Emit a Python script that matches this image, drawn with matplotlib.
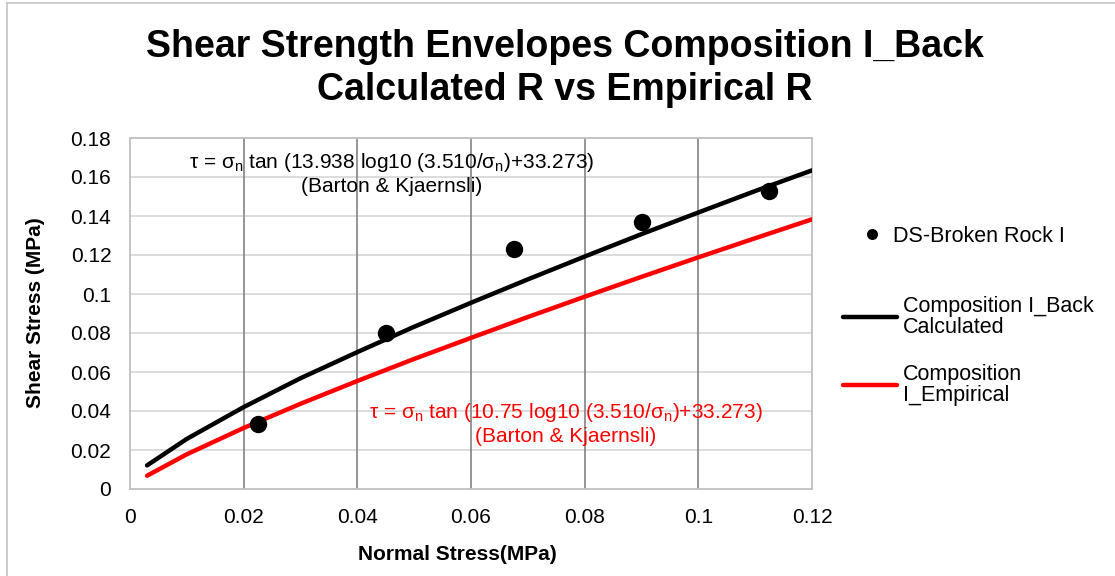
import matplotlib
matplotlib.use("Agg")
import matplotlib.pyplot as plt
from matplotlib.lines import Line2D

plt.rcParams['font.family'] = ['Liberation Sans', 'DejaVu Sans']
plt.rcParams['mathtext.fontset'] = 'custom'
plt.rcParams['mathtext.rm'] = 'Liberation Sans'
plt.rcParams['mathtext.it'] = 'Liberation Sans'

# Data
ds_x = [0.0225, 0.045, 0.0675, 0.09, 0.1125]
ds_y = [0.0335, 0.080, 0.123, 0.137, 0.153]

env_x = [0.003, 0.01, 0.02, 0.03, 0.04, 0.05, 0.06, 0.07, 0.08, 0.09, 0.10, 0.11, 0.12]
back_y = [0.0121, 0.0257, 0.0420, 0.0568, 0.0702, 0.0832, 0.0955, 0.1075, 0.1192, 0.1307, 0.1418, 0.1528, 0.1634]
emp_y = [0.0068, 0.0178, 0.0313, 0.0437, 0.0554, 0.0667, 0.0775, 0.0882, 0.0986, 0.1088, 0.1188, 0.1286, 0.1383]

x_ticks = [0, 0.02, 0.04, 0.06, 0.08, 0.1, 0.12]
x_ticklabels = ['0', '0.02', '0.04', '0.06', '0.08', '0.1', '0.12']
y_ticks = [0, 0.02, 0.04, 0.06, 0.08, 0.1, 0.12, 0.14, 0.16, 0.18]
y_ticklabels = ['0', '0.02', '0.04', '0.06', '0.08', '0.1', '0.12', '0.14', '0.16', '0.18']

W, H = 1115, 576
fig = plt.figure(figsize=(W / 100, H / 100), dpi=100)
ax = fig.add_axes([130 / W, 1 - 489 / H, (812 - 130) / W, (489 - 138) / H])

ax.set_xlim(0, 0.12)
ax.set_ylim(0, 0.18)
ax.set_xticks(x_ticks)
ax.set_xticklabels(x_ticklabels)
ax.set_yticks(y_ticks)
ax.set_yticklabels(y_ticklabels)
ax.tick_params(length=0, labelsize=15, pad=13.5)

for y in y_ticks[1:]:
    ax.axhline(y, color='#d9d9d9', lw=1.3, zorder=0)
for x in x_ticks[1:-1]:
    ax.axvline(x, color='#8c8c8c', lw=1.3, zorder=0)
for s in ax.spines.values():
    s.set_color('#bfbfbf')
    s.set_linewidth(1.3)

l_back, = ax.plot(env_x, back_y, color='black', lw=3.2, solid_capstyle='round',
                  label='Composition I_Back\nCalculated', zorder=3)
l_emp, = ax.plot(env_x, emp_y, color='#ff0000', lw=3.2, solid_capstyle='round',
                 label='Composition\nI_Empirical', zorder=3)
sc, = ax.plot(ds_x, ds_y, 'o', color='black', ms=11.5, ls='none',
              label='DS-Broken Rock I', zorder=4)

ax.set_xlabel('Normal Stress(MPa)', fontsize=15, fontweight='bold')
ax.xaxis.set_label_coords((457 - 130) / 682, (489 - 555) / 351)
ax.xaxis.label.set_va('center')
ax.set_ylabel('Shear Stress (MPa)', fontsize=15, fontweight='bold')
ax.yaxis.set_label_coords((35 - 130) / 682, (489 - 313) / 351)
ax.yaxis.label.set_va('center')

fig.text(565 / W, 1 - 47 / H, 'Shear Strength Envelopes Composition I_Back',
         ha='center', va='center', fontsize=27, fontweight='bold')
fig.text(565 / W, 1 - 90 / H, 'Calculated R vs Empirical R',
         ha='center', va='center', fontsize=27, fontweight='bold')

fig.text(392 / W, 1 - 162 / H, r'τ = σ$_\mathregular{n}$ tan (13.938 log10 (3.510/σ$_\mathregular{n}$)+33.273)',
         ha='center', va='center', fontsize=15, color='black')
fig.text(392 / W, 1 - 186 / H, '(Barton & Kjaernsli)',
         ha='center', va='center', fontsize=15, color='black')
fig.text(566 / W, 1 - 413 / H, r'τ = σ$_\mathregular{n}$ tan (10.75 log10 (3.510/σ$_\mathregular{n}$)+33.273)',
         ha='center', va='center', fontsize=15, color='#ff0000')
fig.text(566 / W, 1 - 437 / H, '(Barton & Kjaernsli)',
         ha='center', va='center', fontsize=15, color='#ff0000')

LFS = 15.5
px = LFS * 100 / 72
legend_specs = [
    (sc, 857, 236, 30),
    (l_back, 843, 317, 54),
    (l_emp, 843, 385, 54),
]
for handle, x0, yc, hlen in legend_specs:
    leg = fig.legend(handles=[handle], loc='center left',
                     bbox_to_anchor=(x0 / W, 1 - yc / H), frameon=False,
                     fontsize=LFS, markerscale=0.6, handlelength=hlen / px,
                     handletextpad=6 / px, borderaxespad=0, borderpad=0)
    for t in leg.get_texts():
        t.set_linespacing(0.95)

# outer chart border (left and top edges)
fig.add_artist(Line2D([6.5 / W, 6.5 / W], [0, 1 - 3 / H], color='#c8c8c8', lw=1.3,
                      transform=fig.transFigure))
fig.add_artist(Line2D([6.5 / W, 1], [1 - 3 / H, 1 - 3 / H], color='#c8c8c8', lw=1.3,
                      transform=fig.transFigure))

fig.savefig('out.png', dpi=100)
